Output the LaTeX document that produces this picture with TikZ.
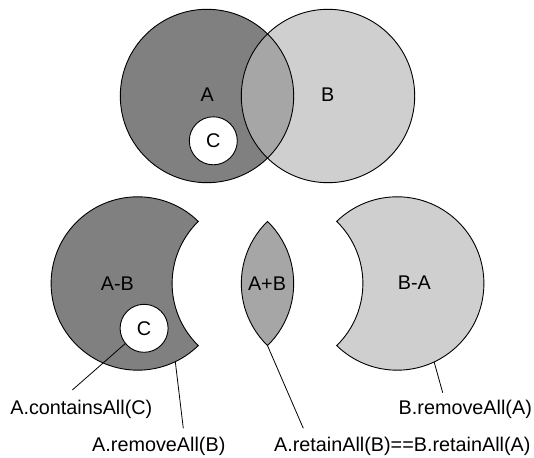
\documentclass[tikz,border=0pt]{standalone}
\usepackage{fontspec}
\setmainfont{Liberation Sans}
\definecolor{setA}{RGB}{128,128,128}
\definecolor{setAB}{RGB}{166,166,166}
\definecolor{setB}{RGB}{207,207,207}
\begin{document}
\begin{tikzpicture}[x=1pt, y=-1pt, line width=0.9pt,
  lbl/.style={font=\fontsize{19.8}{23}\selectfont, inner sep=0pt},
  setC/.style={circle, draw=black, fill=white, minimum size=48pt, inner sep=0pt,
               font=\fontsize{19.8}{23}\selectfont},
  lead/.style={line width=0.8pt}]
\useasboundingbox (0,0) rectangle (534,457);
\def\rad{86.7}

% ---- the two overlapping sets ----
\coordinate (Actr) at (207,96);
\coordinate (Bctr) at (328,96);
\fill[setA] (Actr) circle (\rad);
\fill[setB] (Bctr) circle (\rad);
\fill[setAB] (267.5,33.9) arc[start angle=225.74, end angle=134.26, radius=\rad]
                         arc[start angle=45.74, end angle=-45.74, radius=\rad] -- cycle;
\draw (Actr) circle (\rad);
\draw (Bctr) circle (\rad);
\node[lbl] (labA) at (207.3,95) {A};
\node[lbl] (labB) at (327.7,95) {B};
\node[setC] (Ct) at (213.3,140.8) {C};

% ---- A minus B ----
\filldraw[fill=setA] (198.3,221.4) arc[start angle=-45.74, end angle=-314.26, radius=\rad]
                                  arc[start angle=134.26, end angle=225.74, radius=\rad] -- cycle;
\node[lbl] (labAmB) at (117.3,283.3) {A-B};
\node[setC] (Cb) at (144.1,328.3) {C};

% ---- intersection ----
\filldraw[fill=setAB] (267.5,221.4) arc[start angle=225.74, end angle=134.26, radius=\rad]
                                   arc[start angle=45.74, end angle=-45.74, radius=\rad] -- cycle;
\node[lbl] (labApB) at (267,283.5) {A+B};
\coordinate (lensTip) at (267.5,345.6);

% ---- B minus A ----
\filldraw[fill=setB] (336.7,221.4) arc[start angle=225.74, end angle=494.26, radius=\rad]
                                  arc[start angle=45.74, end angle=-45.74, radius=\rad] -- cycle;
\node[lbl] (labBmA) at (414.3,283) {B-A};

% ---- method labels ----
\node[lbl, anchor=base] (lContains) at (81.3,414.5) {A.containsAll(C)};
\node[lbl, anchor=base] (lRemoveB)  at (158.8,451)  {A.removeAll(B)};
\node[lbl, anchor=base] (lRemoveA)  at (465.3,414.5) {B.removeAll(A)};
\node[lbl, anchor=base] (lRetain)   at (402.3,451)  {A.retainAll(B)==B.retainAll(A)};

% ---- leader lines ----
\coordinate (e1) at (72.3,390);
\coordinate (s2) at (175.3,361.7);
\coordinate (e2) at (183.3,428.3);
\coordinate (e3) at (303.3,428.3);
\coordinate (s4) at (434.1,361.9);
\coordinate (e4) at (442.7,392.7);
\draw[lead] (Cb.219) -- (e1);
\draw[lead] (s2) -- (e2);
\draw[lead] (lensTip) -- (e3);
\draw[lead] (s4) -- (e4);
\end{tikzpicture}
\end{document}
